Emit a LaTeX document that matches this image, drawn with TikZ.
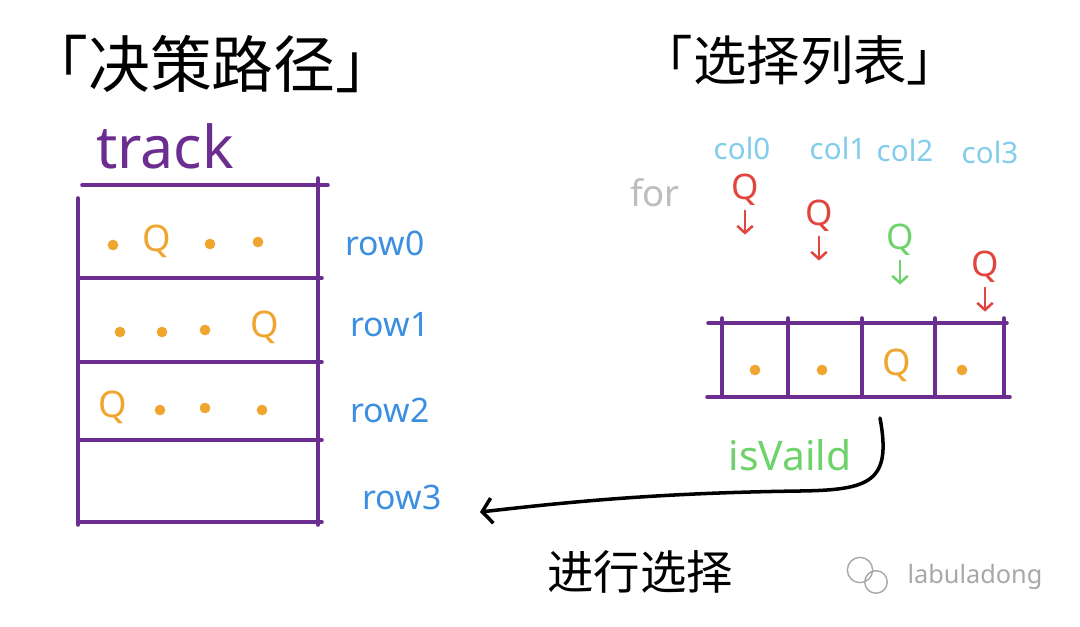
\documentclass[tikz,border=0pt]{standalone}
\usepackage{fontspec}
\setmainfont{Noto Sans}
\newfontfamily\cjk{Noto Sans CJK SC}
\usetikzlibrary{arrows.meta}
\definecolor{GridPurple}{HTML}{6B2D8F}
\definecolor{QueenOrange}{HTML}{F0A52E}
\definecolor{RowBlue}{HTML}{3C8FE0}
\definecolor{ColCyan}{HTML}{82CDEB}
\definecolor{TryRed}{HTML}{E0463E}
\definecolor{OkGreen}{HTML}{6DD36A}
\definecolor{ForGrey}{HTML}{BDBDBD}
\definecolor{MarkGrey}{HTML}{A8A8A8}
\begin{document}
\begin{tikzpicture}[x=0.025cm,y=-0.025cm,line cap=round,
 grid/.style={GridPurple,line width=2.5pt},
 queen/.style={text=QueenOrange,font=\fontsize{26}{26}\selectfont},
 dot/.style={QueenOrange},
 rowlabel/.style={text=RowBlue,font=\fontsize{24}{24}\selectfont},
 collabel/.style={text=ColCyan,font=\fontsize{21}{21}\selectfont},
 tryq/.style={font=\fontsize{25}{25}\selectfont},
 drop/.style={line width=1.8pt,-{Straight Barb[length=5pt,width=11pt]}}]
\useasboundingbox[fill=white] (0,0) rectangle (1080,626);
% titles
\node[font=\cjk\fontsize{44}{44}\selectfont] (pathtitle) at (212,64){「决策路径」};
\node[font=\cjk\fontsize{38}{38}\selectfont] (choicetitle) at (800,60){「选择列表」};
\node[text=GridPurple,font=\fontsize{42}{42}\selectfont] (track) at (165,146){track};
% track board
\draw[grid] (82,185) -- (328,185); \draw[grid] (78,198) -- (78,525); \draw[grid] (318,178) -- (318,525);
\foreach \y in {278,362,440,522} \draw[grid] (80,\y) -- (322,\y);
\foreach \x/\y in {113/245,210/244,258/242,120/332,162/332,205/330,160/410,205/408,262/410} \fill[dot] (\x,\y) circle (3.8pt);
\node[queen] (q00) at (157,241){Q}; \node[queen] (q13) at (265,327){Q}; \node[queen] (q20) at (113,407){Q};
\node[rowlabel] (row0) at (385,243){row0};
\node[rowlabel] (row1) at (390,325){row1};
\node[rowlabel] (row2) at (390,410){row2};
\node[rowlabel] (row3) at (402,497){row3};
% choice list
\node[collabel] (col0) at (742,148){col0}; \node[collabel] (col1) at (838,148){col1};
\node[collabel] (col2) at (905,150){col2}; \node[collabel] (col3) at (990,152){col3};
\node[text=ForGrey,font=\fontsize{26}{26}\selectfont] (for) at (655,193){for};
\node[tryq,text=TryRed] (try0) at (745,190){Q}; \node[tryq,text=TryRed] (try1) at (819,216){Q};
\node[tryq,text=OkGreen] (try2) at (900,240){Q}; \node[tryq,text=TryRed] (try3) at (985,267){Q};
\draw[drop,TryRed] (try0.south) -- ([yshift=-17pt]try0.south);
\draw[drop,TryRed] (try1.south) -- ([yshift=-17pt]try1.south);
\draw[drop,OkGreen] (try2.south) -- ([yshift=-17pt]try2.south);
\draw[drop,TryRed] (try3.south) -- ([yshift=-17pt]try3.south);
\draw[grid] (708,323) -- (1007,323); \draw[grid] (707,397) -- (1010,397);
\foreach \x in {722,788,862,935,1004} \draw[grid] (\x,318) -- (\x,397);
\foreach \x in {755,822,962} \fill[dot] (\x,370) circle (3.8pt);
\node[queen] (cell2) at (897,365){Q};
% choose
\node[text=OkGreen,font=\fontsize{29}{29}\selectfont] (valid) at (790,455){isVaild};
\coordinate (vstart) at (880,418); \coordinate (pick) at (480,512);
\draw[line width=2.5pt,-{Straight Barb[length=7pt,width=18pt]}] (vstart) .. controls (892,482) and (870,490) .. (800,491) .. controls (650,493) and (560,503) .. (pick);
\node[font=\cjk\fontsize{33}{33}\selectfont] (choose) at (640,572){进行选择};
% watermark
\draw[MarkGrey,line width=1pt] (860,570) circle (9pt) (876,582) circle (8pt);
\node[text=MarkGrey,font=\fontsize{18}{18}\selectfont] (mark) at (975,577){labuladong};
\end{tikzpicture}
\end{document}
